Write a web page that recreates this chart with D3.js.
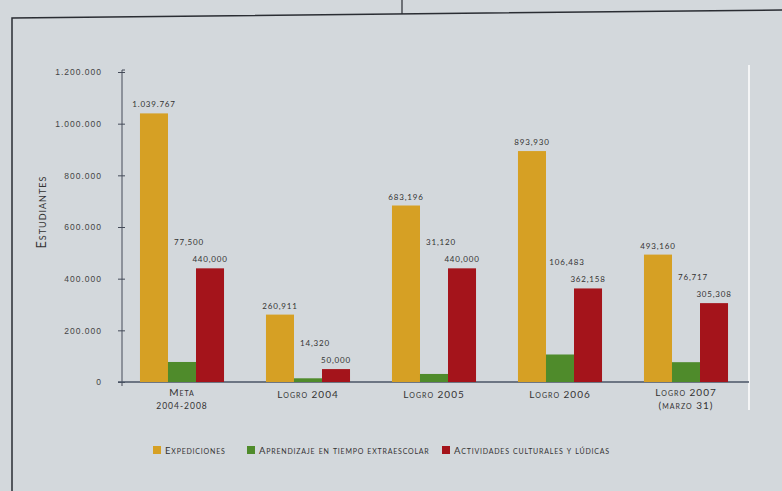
<!DOCTYPE html>
<html lang="es">
<head>
<meta charset="UTF-8">
<title>Estudiantes</title>
<script src="https://d3js.org/d3.v7.min.js"></script>
<style>
    body{ margin:0; background:#d3d8dc; }
    svg{ display:block; font-family: "Lato", "Open Sans", sans-serif; }
    .tick text{ font-size: 8.5px; fill:#444; letter-spacing: 1px; }
    .val{ font-size: 8px; fill:#333; letter-spacing: .8px; }
    .cat{ font-size: 10px; fill:#333; font-variant: small-caps; letter-spacing: 1px; }
    .leg{ font-size: 9.5px; fill:#333; font-variant: small-caps; letter-spacing: .8px; }
</style>
</head>
<body>
<div id="fig"></div>
<script>
    // data
    let categories = ["Meta 2004-2008", "Logro 2004", "Logro 2005", "Logro 2006", "Logro 2007 (marzo 31)"]
    let catLines = [["Meta", "2004-2008"], ["Logro 2004"], ["Logro 2005"], ["Logro 2006"], ["Logro 2007", "(marzo 31)"]]
    let series = ["Expediciones", "Aprendizaje en tiempo extraescolar", "Actividades culturales y lúdicas"]
    let expediciones = [1039767, 260911, 683196, 893930, 493160]
    let aprendizaje = [77500, 14320, 31120, 106483, 76717]
    let actividades = [440000, 50000, 440000, 362158, 305308]
    let expLabels = ["1.039.767", "260,911", "683,196", "893,930", "493,160"]
    let aprLabels = ["77,500", "14,320", "31,120", "106,483", "76,717"]
    let actLabels = ["440,000", "50,000", "440,000", "362,158", "305,308"]
    let yTicks = [0, 200000, 400000, 600000, 800000, 1000000, 1200000]
    let yTickLabels = ["0", "200.000", "400.000", "600.000", "800.000", "1.000.000", "1.200.000"]
    let colors = ["#d6a024", "#4f8b2b", "#a4141b"]

    let W = 782, H = 491
    let svg = d3.select("#fig").append("svg").attr("width", W).attr("height", H)

    svg.append("rect").attr("width", W).attr("height", H).attr("fill", "#d3d8dc")

    // page frame of the printed sheet
    svg.append("path").attr("d", "M12,491 L12,18 L782,10").attr("fill", "none")
        .attr("stroke", "#2a2d33").attr("stroke-width", 1.5)
    svg.append("line").attr("x1", 402).attr("y1", 0).attr("x2", 402).attr("y2", 14)
        .attr("stroke", "#2a2d33").attr("stroke-width", 1.2)
    svg.append("line").attr("x1", 749).attr("y1", 65).attr("x2", 749).attr("y2", 410)
        .attr("stroke", "#ffffff").attr("stroke-width", 1.5)

    let y = d3.scaleLinear().domain([0, 1200000]).range([382, 72])
    let x0 = d3.scaleBand().domain(categories).range([119, 749]).paddingInner(0.333).paddingOuter(0.1665)
    let x1 = d3.scaleBand().domain(series).range([0, x0.bandwidth()])

    let yAxis = d3.axisLeft(y).tickValues(yTicks).tickFormat((d, i) => yTickLabels[i]).tickSize(6).tickPadding(14)
    let gy = svg.append("g").attr("transform", "translate(122,0)").call(yAxis)
    gy.select(".domain").attr("d", "M3,70 H0 V386").attr("stroke", "#444b58")
    gy.selectAll(".tick line").attr("stroke", "#444b58").attr("x2", 3).attr("x1", -4)

    // x axis baseline
    svg.append("line").attr("x1", 118).attr("x2", 749).attr("y1", y(0)).attr("y2", y(0))
        .attr("stroke", "#4a5466").attr("stroke-width", 1.3)

    let values = [expediciones, aprendizaje, actividades]
    series.forEach(function (s, k) {
        svg.selectAll(".bar" + k).data(values[k]).enter().append("rect")
            .attr("x", (d, i) => x0(categories[i]) + x1(s))
            .attr("y", d => y(d))
            .attr("width", x1.bandwidth())
            .attr("height", d => y(0) - y(d))
            .attr("fill", colors[k])
    })

    // value labels
    svg.selectAll(".vexp").data(expediciones).enter().append("text").attr("class", "val")
        .attr("x", (d, i) => x0(categories[i]) + x1(series[0]) + x1.bandwidth() / 2)
        .attr("y", d => y(d) - 6).attr("text-anchor", "middle")
        .text((d, i) => expLabels[i])
    svg.selectAll(".vact").data(actividades).enter().append("text").attr("class", "val")
        .attr("x", (d, i) => x0(categories[i]) + x1(series[2]) + x1.bandwidth() / 2)
        .attr("y", d => y(d) - 6).attr("text-anchor", "middle")
        .text((d, i) => actLabels[i])
    svg.selectAll(".vapr").data(aprendizaje).enter().append("text").attr("class", "val")
        .attr("x", (d, i) => x0(categories[i]) + x1(series[1]) + x1.bandwidth() / 2 + 7)
        .attr("y", (d, i) => y(actividades[i]) - 23).attr("text-anchor", "middle")
        .text((d, i) => aprLabels[i])

    // category labels
    let cats = svg.selectAll(".cat").data(catLines).enter().append("text").attr("class", "cat")
        .attr("text-anchor", "middle")
        .attr("transform", (d, i) => `translate(${x0(categories[i]) + x0.bandwidth() / 2},${d.length > 1 ? 396 : 398})`)
    cats.selectAll("tspan").data(d => d).enter().append("tspan")
        .attr("x", 0).attr("dy", (d, j) => j == 0 ? 0 : 13)
        .style("font-size", (d, j) => j == 0 ? "10px" : (d[0] == "(" ? "10px" : "8.5px"))
        .text(d => d)

    // y title
    svg.append("text").attr("class", "cat").attr("text-anchor", "middle")
        .attr("transform", "translate(46,212) rotate(-90)")
        .style("font-size", "12.5px")
        .text("Estudiantes")

    // legend
    let legX = [153, 247, 442]
    let leg = svg.selectAll(".legend").data(series).enter().append("g")
        .attr("transform", (d, i) => `translate(${legX[i]},446)`)
    leg.append("rect").attr("width", 8).attr("height", 8).attr("fill", (d, i) => colors[i])
    leg.append("text").attr("class", "leg").attr("x", 12).attr("y", 8).text(d => d)
</script>
</body>
</html>
